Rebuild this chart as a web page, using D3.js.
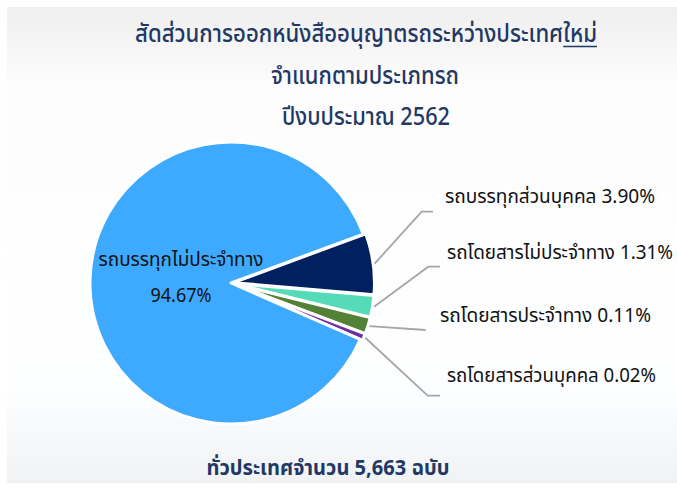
<!DOCTYPE html>
<html>
<head>
<meta charset="utf-8">
<script src="https://cdn.jsdelivr.net/npm/d3@7/dist/d3.min.js"></script>
<style>
  html, body { margin: 0; padding: 0; background: #ffffff; }
  svg { display: block; }
  text { font-family: Tahoma, "Noto Sans Thai", "Leelawadee UI", "DejaVu Sans", sans-serif; }
</style>
</head>
<body>
<svg id="chart" width="677" height="489"></svg>
<script>
// ---------------- data ----------------
// categories in clockwise drawing order, starting at the dark-blue slice
const categories = [
  "รถบรรทุกส่วนบุคคล",
  "รถโดยสารไม่ประจำทาง",
  "รถโดยสารประจำทาง",
  "รถโดยสารส่วนบุคคล",
  "รถบรรทุกไม่ประจำทาง"
];
// printed percentages (label text)
const labelPercents = ["3.90%", "1.31%", "0.11%", "0.02%", "94.67%"];
// slice sizes as drawn in the picture (share of the full circle, %)
const sliceShares = [7.0, 2.5, 1.9, 0.8, 87.8];
const sliceColors = ["#002060", "#55dbb8", "#538135", "#7030a0", "#3eaaff"];

const titleLines = [
  "สัดส่วนการออกหนังสืออนุญาตรถระหว่างประเทศใหม่",
  "จำแนกตามประเภทรถ",
  "ปีงบประมาณ 2562"
];
const titleUnderlined = "ใหม่";
const footerText = "ทั่วประเทศจำนวน 5,663 ฉบับ";

// ---------------- layout ----------------
const W = 677, H = 489;
const cx = 231, cy = 283, R = 141;
const startDeg = 69.7;   // clockwise from 12 o'clock

const svg = d3.select("#chart");

// background panel with soft gradient
const defs = svg.append("defs");
const grad = defs.append("linearGradient").attr("id", "bg").attr("x1", 0).attr("y1", 0).attr("x2", 0).attr("y2", 1);
grad.append("stop").attr("offset", "0%").attr("stop-color", "#efefef");
grad.append("stop").attr("offset", "17%").attr("stop-color", "#fdfdfd");
grad.append("stop").attr("offset", "80%").attr("stop-color", "#fdfeff");
grad.append("stop").attr("offset", "100%").attr("stop-color", "#f1f2f4");
svg.append("rect").attr("x", 7).attr("y", 7).attr("width", W - 7).attr("height", 476).attr("fill", "url(#bg)");

// title
const navy = "#1f3864";
const t1 = svg.append("text").attr("x", 135).attr("y", 42).attr("fill", navy).attr("font-size", 25)
  .attr("font-weight", 500).attr("textLength", 462).attr("lengthAdjust", "spacingAndGlyphs")
  .text(titleLines[0]);
// underline the trailing word
{
  const node = t1.node();
  const full = titleLines[0];
  const k = full.lastIndexOf(titleUnderlined);
  let ux0 = 561, ux1 = 597;
  try {
    const s = node.getStartPositionOfChar(k);
    const e = node.getEndPositionOfChar(full.length - 1);
    if (s && e && e.x > s.x) { ux0 = s.x; ux1 = e.x; }
  } catch (err) {}
  svg.append("line").attr("x1", ux0).attr("x2", ux1).attr("y1", 46.5).attr("y2", 46.5)
    .attr("stroke", navy).attr("stroke-width", 1.5);
}
svg.append("text").attr("x", 365).attr("y", 84).attr("text-anchor", "middle").attr("fill", navy)
  .attr("font-size", 25).attr("font-weight", 500).attr("textLength", 188).attr("lengthAdjust", "spacingAndGlyphs").text(titleLines[1]);
svg.append("text").attr("x", 366).attr("y", 125).attr("text-anchor", "middle").attr("fill", navy)
  .attr("font-size", 25).attr("font-weight", 500).attr("textLength", 168).attr("lengthAdjust", "spacingAndGlyphs").text(titleLines[2]);

// pie
const toRad = d => d * Math.PI / 180;
const pie = d3.pie().sort(null).value(d => d)
  .startAngle(toRad(startDeg)).endAngle(toRad(startDeg + 360));
const arcs = pie(sliceShares);
const arc = d3.arc().innerRadius(0).outerRadius(R);
const mainIdx = sliceShares.indexOf(d3.max(sliceShares));

const g = svg.append("g").attr("transform", `translate(${cx},${cy})`);
g.selectAll("path").data(arcs).join("path")
  .attr("d", arc)
  .attr("transform", (d, i) => {
    if (i === mainIdx) return null;
    const a = (d.startAngle + d.endAngle) / 2, off = 2.5;
    return `translate(${off * Math.sin(a)},${-off * Math.cos(a)})`;
  })
  .attr("fill", (d, i) => sliceColors[i])
  .attr("stroke", "#ffffff").attr("stroke-width", 3).attr("stroke-linejoin", "round");

// leader lines + outside labels
const labelLayout = [
  { ex: 421.7, ey: 211.7, hx: 433, tx: 445, ty: 203, tw: 210 },
  { ex: 428.3, ey: 266.7, hx: 440, tx: 447, ty: 259, tw: 226 },
  { ex: 425.7, ey: 330,   hx: 425.7, tx: 440, ty: 321.5, tw: 211 },
  { ex: 427.7, ey: 395.7, hx: 440, tx: 447, ty: 381.5, tw: 209 }
];
labelLayout.forEach((L, i) => {
  const d = arcs[i];
  const a = (d.startAngle + d.endAngle) / 2;
  const rr = R + 4;
  const sx = cx + rr * Math.sin(a), sy = cy - rr * Math.cos(a);
  svg.append("polyline")
    .attr("points", `${sx},${sy} ${L.ex},${L.ey} ${L.hx},${L.ey}`)
    .attr("fill", "none").attr("stroke", "#a6a6a6").attr("stroke-width", 1.8);
  svg.append("text").attr("x", L.tx).attr("y", L.ty).attr("fill", "#111").attr("font-size", 19)
    .attr("textLength", L.tw).attr("lengthAdjust", "spacingAndGlyphs")
    .text(categories[i] + " " + labelPercents[i]);
});

// label inside main slice
svg.append("text").attr("x", 181).attr("y", 266).attr("text-anchor", "middle").attr("fill", "#111")
  .attr("font-size", 19).attr("textLength", 165).attr("lengthAdjust", "spacingAndGlyphs").text(categories[mainIdx]);
svg.append("text").attr("x", 181).attr("y", 301.5).attr("text-anchor", "middle").attr("fill", "#111")
  .attr("font-size", 19).attr("textLength", 61).attr("lengthAdjust", "spacingAndGlyphs").text(labelPercents[mainIdx]);

// footer
svg.append("text").attr("x", 328).attr("y", 475).attr("text-anchor", "middle").attr("fill", navy)
  .attr("font-size", 21).attr("font-weight", "bold").attr("textLength", 243).attr("lengthAdjust", "spacingAndGlyphs")
  .text(footerText);
</script>
</body>
</html>
